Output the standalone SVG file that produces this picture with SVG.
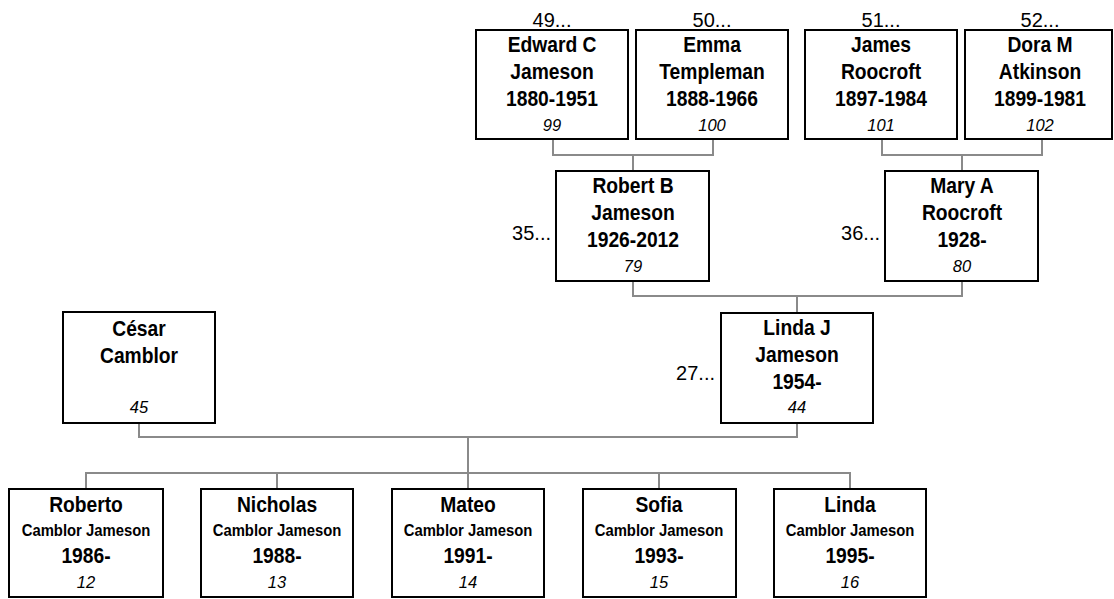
<svg xmlns="http://www.w3.org/2000/svg" width="1114" height="599" viewBox="0 0 1114 599">
<style>
.box{fill:#fff;stroke:#000;stroke-width:2}
.ln{fill:none;stroke:#8a8a8a;stroke-width:2}
.nm{font-family:"Liberation Sans",Arial,sans-serif;font-weight:bold;font-size:22px;text-anchor:middle;fill:#000}
.sn{font-family:"Liberation Sans",Arial,sans-serif;font-weight:bold;font-size:16.5px;text-anchor:middle;fill:#000}
.id{font-family:"Liberation Sans",Arial,sans-serif;font-style:italic;font-size:16.5px;text-anchor:middle;fill:#000}
.lb{font-family:"Liberation Sans",Arial,sans-serif;font-size:20px;fill:#000}
.c{text-anchor:middle}
.e{text-anchor:end}
</style>
<rect width="1114" height="599" fill="#fff"/>
<g id="connectors">
<path class="ln" d="M553 140V155H713V140M633 155V171"/>
<path class="ln" d="M882 140V155H1042V140M962 155V171"/>
<path class="ln" d="M633 282V296H962V282M797 296V313"/>
<path class="ln" d="M139 424V437H797V424M468 437V489"/>
<path class="ln" d="M86 489V473H850V489M277 473V489M659 473V489"/>
</g>
<g id="n49">
<text class="lb c" x="552" y="27">49...</text>
<rect class="box" x="476" y="30" width="152" height="109"/>
<g transform="translate(552 0) scale(0.875 1)">
<text class="nm" x="0" y="52">Edward C</text>
<text class="nm" x="0" y="79">Jameson</text>
<text class="nm" x="0" y="106">1880-1951</text>
</g>
<text class="id" x="552" y="131">99</text>
</g>
<g id="n50">
<text class="lb c" x="712" y="27">50...</text>
<rect class="box" x="636" y="30" width="152" height="109"/>
<g transform="translate(712 0) scale(0.875 1)">
<text class="nm" x="0" y="52">Emma</text>
<text class="nm" x="0" y="79">Templeman</text>
<text class="nm" x="0" y="106">1888-1966</text>
</g>
<text class="id" x="712" y="131">100</text>
</g>
<g id="n51">
<text class="lb c" x="881" y="27">51...</text>
<rect class="box" x="805" y="30" width="152" height="109"/>
<g transform="translate(881 0) scale(0.875 1)">
<text class="nm" x="0" y="52">James</text>
<text class="nm" x="0" y="79">Roocroft</text>
<text class="nm" x="0" y="106">1897-1984</text>
</g>
<text class="id" x="881" y="131">101</text>
</g>
<g id="n52">
<text class="lb c" x="1040" y="27">52...</text>
<rect class="box" x="965" y="30" width="147" height="109"/>
<g transform="translate(1040 0) scale(0.875 1)">
<text class="nm" x="0" y="52">Dora M</text>
<text class="nm" x="0" y="79">Atkinson</text>
<text class="nm" x="0" y="106">1899-1981</text>
</g>
<text class="id" x="1040" y="131">102</text>
</g>
<g id="n79">
<text class="lb e" x="551" y="240">35...</text>
<rect class="box" x="556" y="171" width="153" height="110"/>
<g transform="translate(633 0) scale(0.875 1)">
<text class="nm" x="0" y="193">Robert B</text>
<text class="nm" x="0" y="220">Jameson</text>
<text class="nm" x="0" y="247">1926-2012</text>
</g>
<text class="id" x="633" y="272">79</text>
</g>
<g id="n80">
<text class="lb e" x="880" y="240">36...</text>
<rect class="box" x="885" y="171" width="153" height="110"/>
<g transform="translate(962 0) scale(0.875 1)">
<text class="nm" x="0" y="193">Mary A</text>
<text class="nm" x="0" y="220">Roocroft</text>
<text class="nm" x="0" y="247">1928-</text>
</g>
<text class="id" x="962" y="272">80</text>
</g>
<g id="n45">
<rect class="box" x="63" y="312" width="152" height="111"/>
<g transform="translate(139 0) scale(0.875 1)">
<text class="nm" x="0" y="336">César</text>
<text class="nm" x="0" y="363">Camblor</text>
</g>
<text class="id" x="139" y="413">45</text>
</g>
<g id="n44">
<text class="lb e" x="715" y="380">27...</text>
<rect class="box" x="721" y="313" width="152" height="110"/>
<g transform="translate(797 0) scale(0.875 1)">
<text class="nm" x="0" y="335">Linda J</text>
<text class="nm" x="0" y="362">Jameson</text>
<text class="nm" x="0" y="389">1954-</text>
</g>
<text class="id" x="797" y="413">44</text>
</g>
<g id="n12">
<rect class="box" x="9" y="489" width="154" height="108"/>
<g transform="translate(86 0) scale(0.875 1)">
<text class="nm" x="0" y="512">Roberto</text>
<text class="nm" x="0" y="563">1986-</text>
</g>
<text class="sn" transform="translate(86 536) scale(0.9 1)">Camblor Jameson</text>
<text class="id" x="86" y="588">12</text>
</g>
<g id="n13">
<rect class="box" x="201" y="489" width="152" height="108"/>
<g transform="translate(277 0) scale(0.875 1)">
<text class="nm" x="0" y="512">Nicholas</text>
<text class="nm" x="0" y="563">1988-</text>
</g>
<text class="sn" transform="translate(277 536) scale(0.9 1)">Camblor Jameson</text>
<text class="id" x="277" y="588">13</text>
</g>
<g id="n14">
<rect class="box" x="392" y="489" width="152" height="108"/>
<g transform="translate(468 0) scale(0.875 1)">
<text class="nm" x="0" y="512">Mateo</text>
<text class="nm" x="0" y="563">1991-</text>
</g>
<text class="sn" transform="translate(468 536) scale(0.9 1)">Camblor Jameson</text>
<text class="id" x="468" y="588">14</text>
</g>
<g id="n15">
<rect class="box" x="583" y="489" width="153" height="108"/>
<g transform="translate(659 0) scale(0.875 1)">
<text class="nm" x="0" y="512">Sofia</text>
<text class="nm" x="0" y="563">1993-</text>
</g>
<text class="sn" transform="translate(659 536) scale(0.9 1)">Camblor Jameson</text>
<text class="id" x="659" y="588">15</text>
</g>
<g id="n16">
<rect class="box" x="774" y="489" width="152" height="108"/>
<g transform="translate(850 0) scale(0.875 1)">
<text class="nm" x="0" y="512">Linda</text>
<text class="nm" x="0" y="563">1995-</text>
</g>
<text class="sn" transform="translate(850 536) scale(0.9 1)">Camblor Jameson</text>
<text class="id" x="850" y="588">16</text>
</g>
</svg>
